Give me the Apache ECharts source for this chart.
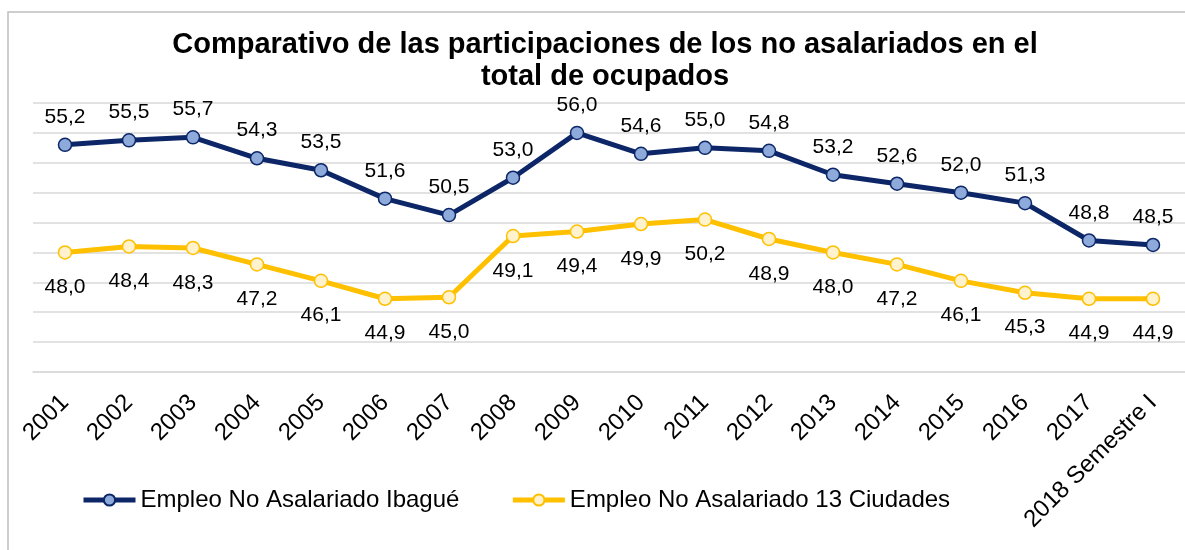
<!DOCTYPE html>
<html>
<head>
<meta charset="utf-8">
<script src="https://cdn.jsdelivr.net/npm/echarts@6/dist/echarts.min.js"></script>
<style>
  html, body { margin: 0; padding: 0; background: #fff; }
  #chart { width: 1185px; height: 550px; }
</style>
</head>
<body>
<div id="chart"></div>
<script>
const years = ['2001', '2002', '2003', '2004', '2005', '2006', '2007', '2008', '2009',
  '2010', '2011', '2012', '2013', '2014', '2015', '2016', '2017', '2018 Semestre I']
const ibague = [55.2, 55.5, 55.7, 54.3, 53.5, 51.6, 50.5, 53.0, 56.0, 54.6, 55.0, 54.8, 53.2, 52.6, 52.0, 51.3, 48.8, 48.5]
const ciudades = [48.0, 48.4, 48.3, 47.2, 46.1, 44.9, 45.0, 49.1, 49.4, 49.9, 50.2, 48.9, 48.0, 47.2, 46.1, 45.3, 44.9, 44.9]
const seriesNames = ['Empleo No Asalariado Ibagué', 'Empleo No Asalariado 13 Ciudades']

const font = 'Liberation Sans, Arial, sans-serif'
const fmt = p => p.value.toFixed(1).replace('.', ',')

const chart = echarts.init(document.getElementById('chart'))

const option = {
  animation: false,
  textStyle: { fontFamily: font },
  graphic: [{
    type: 'rect',
    shape: { x: 8, y: 12, width: 1300, height: 700 },
    style: { fill: 'none', stroke: '#bfbfbf', lineWidth: 1.5 },
    silent: true
  }],
  title: {
    text: 'Comparativo de las participaciones de los no asalariados en el\ntotal de ocupados',
    left: 600,
    textAlign: 'center',
    top: 24,
    textStyle: {
      fontFamily: font,
      fontSize: 29,
      fontWeight: 'bold',
      color: '#000',
      lineHeight: 32
    }
  },
  legend: {
    left: 76,
    top: 483,
    itemWidth: 52,
    itemHeight: 14,
    itemGap: 51,
    lineStyle: { width: 5 },
    textStyle: { fontFamily: font, fontSize: 24, color: '#000' },
    data: seriesNames
  },
  grid: {
    left: 33,
    right: 0,
    top: 103,
    bottom: 178
  },
  xAxis: {
    type: 'category',
    data: years,
    boundaryGap: true,
    axisLine: { show: true, lineStyle: { color: '#d9d9d9', width: 1.5 } },
    axisTick: { show: false },
    axisLabel: {
      interval: 0,
      rotate: 45,
      margin: 27,
      fontFamily: font,
      fontSize: 24,
      color: '#000'
    }
  },
  yAxis: {
    type: 'value',
    min: 40,
    max: 58,
    interval: 2,
    axisLabel: { show: false },
    axisLine: { show: false },
    axisTick: { show: false },
    splitLine: { lineStyle: { color: '#d9d9d9', width: 1.5 } }
  },
  series: [{
    name: seriesNames[0],
    type: 'line',
    data: ibague,
    symbol: 'circle',
    symbolSize: 13,
    lineStyle: { color: '#0c2667', width: 5 },
    itemStyle: { color: '#8eaadb', borderColor: '#0c2667', borderWidth: 1.5 },
    label: {
      show: true,
      position: 'top',
      distance: 10,
      formatter: fmt,
      fontFamily: font,
      fontSize: 21,
      color: '#000'
    },
    z: 3
  }, {
    name: seriesNames[1],
    type: 'line',
    data: ciudades,
    symbol: 'circle',
    symbolSize: 13,
    lineStyle: { color: '#ffc000', width: 5 },
    itemStyle: { color: '#fff2cc', borderColor: '#ffc000', borderWidth: 1.5 },
    label: {
      show: true,
      position: 'bottom',
      distance: 17,
      formatter: fmt,
      fontFamily: font,
      fontSize: 21,
      color: '#000'
    },
    z: 2
  }]
}

chart.setOption(option)
</script>
</body>
</html>
